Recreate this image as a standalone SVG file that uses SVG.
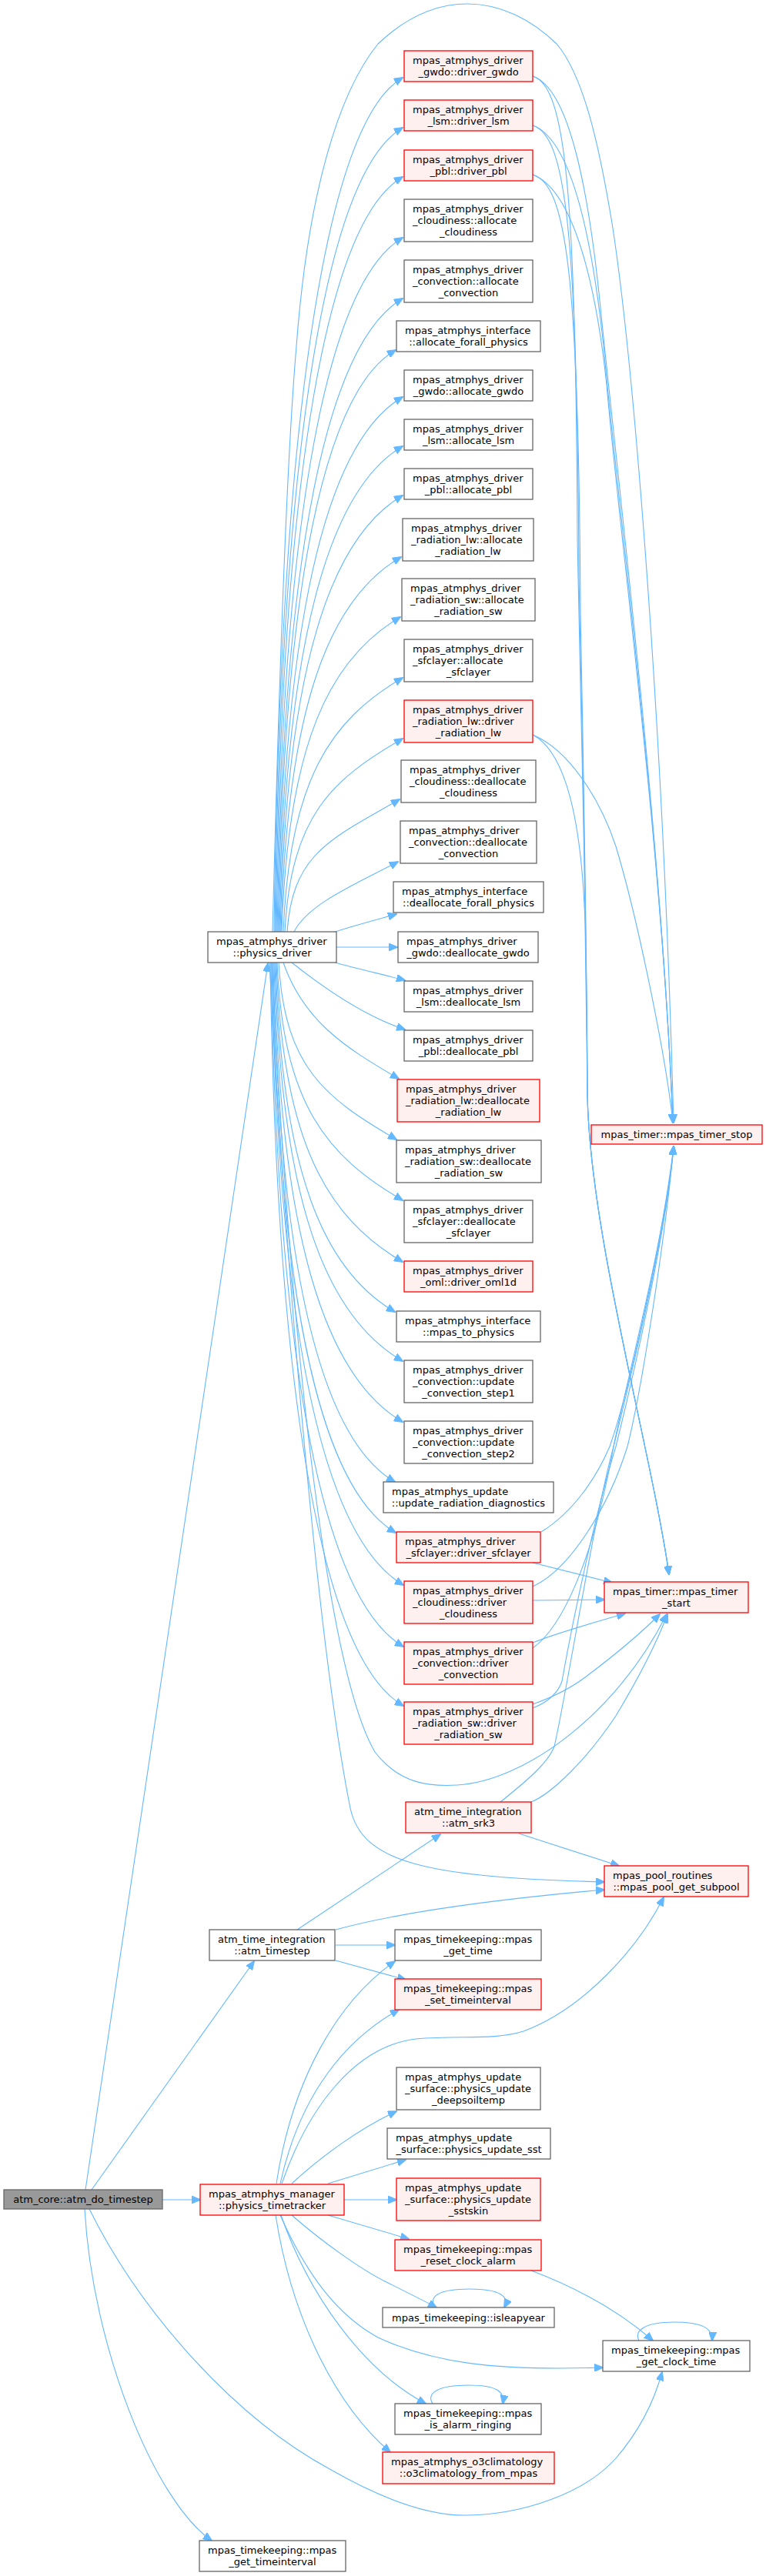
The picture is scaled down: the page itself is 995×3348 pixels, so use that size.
<svg xmlns="http://www.w3.org/2000/svg" width="995" height="3348" viewBox="0 0 995 3348">
<defs>
<marker id="ah" viewBox="0 0 12 10" refX="11" refY="5" markerWidth="12" markerHeight="10" markerUnits="userSpaceOnUse" orient="auto">
<path d="M0,0 L12,5 L0,10 z" fill="#63b8ff" stroke="#63b8ff" stroke-width="1"/>
</marker>
<style>
.e path{fill:none;stroke:#63b8ff;stroke-width:1.1;marker-end:url(#ah)}
.n rect{fill:#ffffff;stroke:#666666;stroke-width:1.3}
.r rect{fill:#fff0f0;stroke:#ff0000;stroke-width:1.3}
.g rect{fill:#999999;stroke:#666666;stroke-width:1.3}
text{font-family:"DejaVu Sans","Liberation Sans",sans-serif;font-size:13px;fill:#000000}
.m{text-anchor:middle}
.s{text-anchor:start}
</style>
</defs>
<rect x="0" y="0" width="995" height="3348" fill="#ffffff"/>
<g id="edges" class="e">
<path d="M356,1211 C364,545 423,159 523,101"/>
<path d="M357,1211 C365,584 423,224 523,166"/>
<path d="M358,1211 C366,622 424,287 523,230"/>
<path d="M359,1211 C367,670 425,366 523,309"/>
<path d="M360,1211 C368,717 425,445 523,388"/>
<path d="M361,1211 C369,757 422,508 514,455"/>
<path d="M362,1211 C370,794 426,572 523,516"/>
<path d="M363,1211 C371,832 427,636 523,580"/>
<path d="M364,1211 C372,871 428,699 523,644"/>
<path d="M365,1211 C373,919 427,778 521,724"/>
<path d="M366,1211 C374,966 428,856 520,802"/>
<path d="M368,1211 C376,1013 430,935 523,881"/>
<path d="M370,1211 C378,1060 431,1013 523,960"/>
<path d="M373,1211 C380,1108 431,1090 519,1039"/>
<path d="M382,1211 C400,1175 460,1150 517,1120"/>
<path d="M435,1211 C460,1203 490,1195 515,1188"/>
<path d="M437,1231 L516,1231"/>
<path d="M435,1251 C460,1258 495,1266 526,1274"/>
<path d="M379,1251 C423,1286 474,1321 526,1338"/>
<path d="M368,1251 C394,1326 447,1361 518,1402"/>
<path d="M362,1251 C370,1389 423,1427 515,1481"/>
<path d="M360,1251 C368,1436 425,1503 523,1560"/>
<path d="M359,1251 C367,1484 425,1583 523,1640"/>
<path d="M358,1251 C366,1523 420,1651 513,1705"/>
<path d="M357,1251 C365,1562 423,1711 523,1769"/>
<path d="M356,1251 C364,1609 423,1790 523,1848"/>
<path d="M355,1251 C363,1656 418,1871 513,1926"/>
<path d="M354,1251 C362,1696 418,1936 514,1992"/>
<path d="M353,1251 C362,1736 421,2000 524,2060"/>
<path d="M352,1251 C361,1784 421,2080 524,2140"/>
<path d="M351,1251 C360,1831 420,2157 524,2217"/>
<path d="M350,1251 C375,1700 415,2150 455,2350 C470,2420 550,2440 785,2446"/>
<path d="M353,1251 C380,1800 430,2180 487,2277 C520,2320 560,2322 594,2320 C680,2315 800,2230 866,2098"/>
<path d="M354,1211 C362,900 372,600 385,450 C400,250 440,120 491,57 C530,20 570,5 607,5 C650,5 690,25 723,57 C760,100 780,200 795,290 C820,450 860,900 875,1459"/>
<path d="M692,99 C735,112 748,250 750,700 C756,1000 762,1200 763,1420 C765,1600 845,1880 869,2046"/>
<path d="M692,163 C735,176 750,300 752,750 C757,1000 762,1200 763,1420 C765,1600 845,1880 869,2046"/>
<path d="M692,227 C735,240 752,350 754,800 C758,1000 762,1200 763,1420 C765,1600 845,1880 869,2046"/>
<path d="M692,955 C730,975 755,1050 760,1200 C762,1300 763,1380 763,1420 C765,1600 845,1880 869,2046"/>
<path d="M692,99 C740,115 765,250 780,400 C800,600 860,1100 874,1459"/>
<path d="M692,163 C740,180 768,300 784,450 C802,650 860,1100 874,1459"/>
<path d="M692,227 C740,245 772,350 788,500 C805,700 860,1100 874,1459"/>
<path d="M692,955 C740,975 780,1040 800,1100 C830,1200 866,1380 874,1459"/>
<path d="M703,1991 C745,1965 775,1920 792,1880 C820,1800 862,1600 875,1490"/>
<path d="M692,2062 C740,2040 790,1960 815,1880 C835,1800 865,1600 875,1490"/>
<path d="M692,2142 C730,2115 770,2030 797,1880 C815,1790 865,1600 875,1490"/>
<path d="M692,2220 C712,2212 725,2200 730,2185 C745,2100 775,1960 800,1880 C825,1780 865,1600 875,1490"/>
<path d="M650,2342 C690,2310 712,2290 720,2270 C740,2180 770,1980 797,1880 C822,1780 865,1600 875,1490"/>
<path d="M692,2031 L795,2057"/>
<path d="M692,2080 L785,2079"/>
<path d="M692,2135 C730,2120 775,2108 812,2097"/>
<path d="M692,2215 C720,2205 740,2195 760,2180 C800,2150 830,2125 857,2098"/>
<path d="M690,2342 C715,2332 760,2290 800,2230 C830,2180 855,2130 867,2098"/>
<path d="M674,2383 L804,2425"/>
<path d="M386,2508 L572,2384"/>
<path d="M436,2508 C520,2485 650,2468 785,2456"/>
<path d="M436,2528 L513,2528"/>
<path d="M436,2548 L527,2573"/>
<path d="M359,2838 C380,2700 440,2600 513,2549"/>
<path d="M364,2838 C390,2720 450,2650 518,2612"/>
<path d="M366,2838 C400,2740 460,2660 540,2650 C600,2645 640,2652 680,2640 C760,2610 830,2530 862,2466"/>
<path d="M379,2838 C420,2800 470,2765 515,2744"/>
<path d="M426,2838 L527,2807"/>
<path d="M447,2859 L515,2859"/>
<path d="M426,2879 L531,2910"/>
<path d="M379,2879 C420,2915 470,2950 500,2965 C530,2980 550,2990 567,2999"/>
<path d="M364,2879 C400,2960 440,3010 491,3038 C560,3070 640,3082 783,3077"/>
<path d="M365,2879 C400,2980 470,3080 553,3124"/>
<path d="M358,2879 C380,3020 440,3130 507,3187"/>
<path d="M566,2999 C555,2985 570,2975 610,2975 C650,2975 662,2985 655,2999"/>
<path d="M562,3124 C553,3110 570,3100 608,3100 C645,3100 656,3108 653,3124"/>
<path d="M830,3042 C823,3028 840,3018 875,3018 C910,3018 926,3025 925,3042"/>
<path d="M690,2951 C740,2970 800,3000 848,3042"/>
<path d="M111,2846 L348,1252"/>
<path d="M119,2846 L330,2549"/>
<path d="M211,2859 L260,2859"/>
<path d="M116,2871 C180,3000 300,3140 430,3210 C500,3250 560,3270 607,3269 C680,3268 760,3240 800,3195 C830,3160 850,3120 860,3083"/>
<path d="M110,2871 C120,3050 200,3250 275,3302"/>
</g>
<g id="n_drv_gwdo" class="r"><rect x="525" y="66" width="167" height="40"/><text class="s" x="536" y="83">mpas_atmphys_driver</text><text class="m" x="608.5" y="98">_gwdo::driver_gwdo</text></g>
<g id="n_drv_lsm" class="r"><rect x="525" y="130" width="167" height="40"/><text class="s" x="536" y="147">mpas_atmphys_driver</text><text class="m" x="608.5" y="162">_lsm::driver_lsm</text></g>
<g id="n_drv_pbl" class="r"><rect x="525" y="195" width="167" height="40"/><text class="s" x="536" y="212">mpas_atmphys_driver</text><text class="m" x="608.5" y="227">_pbl::driver_pbl</text></g>
<g id="n_alloc_cloud" class="n"><rect x="525" y="259" width="167" height="55"/><text class="s" x="536" y="276">mpas_atmphys_driver</text><text class="s" x="536" y="291">_cloudiness::allocate</text><text class="m" x="608.5" y="306">_cloudiness</text></g>
<g id="n_alloc_conv" class="n"><rect x="525" y="338" width="167" height="55"/><text class="s" x="536" y="355">mpas_atmphys_driver</text><text class="s" x="536" y="370">_convection::allocate</text><text class="m" x="608.5" y="385">_convection</text></g>
<g id="n_alloc_forall" class="n"><rect x="515" y="417" width="187" height="40"/><text class="s" x="526" y="434">mpas_atmphys_interface</text><text class="m" x="608.5" y="449">::allocate_forall_physics</text></g>
<g id="n_alloc_gwdo" class="n"><rect x="525" y="481" width="167" height="40"/><text class="s" x="536" y="498">mpas_atmphys_driver</text><text class="m" x="608.5" y="513">_gwdo::allocate_gwdo</text></g>
<g id="n_alloc_lsm" class="n"><rect x="525" y="545" width="167" height="40"/><text class="s" x="536" y="562">mpas_atmphys_driver</text><text class="m" x="608.5" y="577">_lsm::allocate_lsm</text></g>
<g id="n_alloc_pbl" class="n"><rect x="525" y="609" width="167" height="40"/><text class="s" x="536" y="626">mpas_atmphys_driver</text><text class="m" x="608.5" y="641">_pbl::allocate_pbl</text></g>
<g id="n_alloc_rlw" class="n"><rect x="523" y="674" width="170" height="55"/><text class="s" x="534" y="691">mpas_atmphys_driver</text><text class="s" x="534" y="706">_radiation_lw::allocate</text><text class="m" x="608" y="721">_radiation_lw</text></g>
<g id="n_alloc_rsw" class="n"><rect x="522" y="752" width="173" height="55"/><text class="s" x="533" y="769">mpas_atmphys_driver</text><text class="s" x="533" y="784">_radiation_sw::allocate</text><text class="m" x="608.5" y="799">_radiation_sw</text></g>
<g id="n_alloc_sfc" class="n"><rect x="525" y="831" width="167" height="55"/><text class="s" x="536" y="848">mpas_atmphys_driver</text><text class="s" x="536" y="863">_sfclayer::allocate</text><text class="m" x="608.5" y="878">_sfclayer</text></g>
<g id="n_drv_rlw" class="r"><rect x="525" y="910" width="167" height="55"/><text class="s" x="536" y="927">mpas_atmphys_driver</text><text class="s" x="536" y="942">_radiation_lw::driver</text><text class="m" x="608.5" y="957">_radiation_lw</text></g>
<g id="n_dealloc_cloud" class="n"><rect x="521" y="988" width="175" height="55"/><text class="s" x="532" y="1005">mpas_atmphys_driver</text><text class="s" x="532" y="1020">_cloudiness::deallocate</text><text class="m" x="608.5" y="1035">_cloudiness</text></g>
<g id="n_dealloc_conv" class="n"><rect x="520" y="1067" width="177" height="55"/><text class="s" x="531" y="1084">mpas_atmphys_driver</text><text class="s" x="531" y="1099">_convection::deallocate</text><text class="m" x="608.5" y="1114">_convection</text></g>
<g id="n_dealloc_forall" class="n"><rect x="511" y="1146" width="195" height="40"/><text class="s" x="522" y="1163">mpas_atmphys_interface</text><text class="m" x="608.5" y="1178">::deallocate_forall_physics</text></g>
<g id="n_physics_driver" class="n"><rect x="270" y="1211" width="167" height="40"/><text class="s" x="281" y="1228">mpas_atmphys_driver</text><text class="m" x="353.5" y="1243">::physics_driver</text></g>
<g id="n_dealloc_gwdo" class="n"><rect x="517" y="1211" width="182" height="40"/><text class="s" x="528" y="1228">mpas_atmphys_driver</text><text class="m" x="608" y="1243">_gwdo::deallocate_gwdo</text></g>
<g id="n_dealloc_lsm" class="n"><rect x="525" y="1275" width="167" height="40"/><text class="s" x="536" y="1292">mpas_atmphys_driver</text><text class="m" x="608.5" y="1307">_lsm::deallocate_lsm</text></g>
<g id="n_dealloc_pbl" class="n"><rect x="525" y="1339" width="167" height="40"/><text class="s" x="536" y="1356">mpas_atmphys_driver</text><text class="m" x="608.5" y="1371">_pbl::deallocate_pbl</text></g>
<g id="n_dealloc_rlw" class="r"><rect x="516" y="1403" width="185" height="55"/><text class="s" x="527" y="1420">mpas_atmphys_driver</text><text class="s" x="527" y="1435">_radiation_lw::deallocate</text><text class="m" x="608.5" y="1450">_radiation_lw</text></g>
<g id="n_dealloc_rsw" class="n"><rect x="515" y="1482" width="188" height="55"/><text class="s" x="526" y="1499">mpas_atmphys_driver</text><text class="s" x="526" y="1514">_radiation_sw::deallocate</text><text class="m" x="609" y="1529">_radiation_sw</text></g>
<g id="n_dealloc_sfc" class="n"><rect x="525" y="1560" width="167" height="55"/><text class="s" x="536" y="1577">mpas_atmphys_driver</text><text class="s" x="536" y="1592">_sfclayer::deallocate</text><text class="m" x="608.5" y="1607">_sfclayer</text></g>
<g id="n_oml" class="r"><rect x="525" y="1639" width="167" height="40"/><text class="s" x="536" y="1656">mpas_atmphys_driver</text><text class="m" x="608.5" y="1671">_oml::driver_oml1d</text></g>
<g id="n_m2p" class="n"><rect x="515" y="1704" width="187" height="40"/><text class="s" x="526" y="1721">mpas_atmphys_interface</text><text class="m" x="608.5" y="1736">::mpas_to_physics</text></g>
<g id="n_step1" class="n"><rect x="525" y="1768" width="167" height="55"/><text class="s" x="536" y="1785">mpas_atmphys_driver</text><text class="s" x="536" y="1800">_convection::update</text><text class="m" x="608.5" y="1815">_convection_step1</text></g>
<g id="n_step2" class="n"><rect x="525" y="1847" width="167" height="55"/><text class="s" x="536" y="1864">mpas_atmphys_driver</text><text class="s" x="536" y="1879">_convection::update</text><text class="m" x="608.5" y="1894">_convection_step2</text></g>
<g id="n_raddiag" class="n"><rect x="498" y="1926" width="221" height="40"/><text class="s" x="509" y="1943">mpas_atmphys_update</text><text class="m" x="608.5" y="1958">::update_radiation_diagnostics</text></g>
<g id="n_drv_sfc" class="r"><rect x="515" y="1991" width="187" height="40"/><text class="s" x="526" y="2008">mpas_atmphys_driver</text><text class="m" x="608.5" y="2023">_sfclayer::driver_sfclayer</text></g>
<g id="n_drv_cloud" class="r"><rect x="525" y="2055" width="167" height="55"/><text class="s" x="536" y="2072">mpas_atmphys_driver</text><text class="s" x="536" y="2087">_cloudiness::driver</text><text class="m" x="608.5" y="2102">_cloudiness</text></g>
<g id="n_drv_conv" class="r"><rect x="525" y="2134" width="167" height="55"/><text class="s" x="536" y="2151">mpas_atmphys_driver</text><text class="s" x="536" y="2166">_convection::driver</text><text class="m" x="608.5" y="2181">_convection</text></g>
<g id="n_drv_rsw" class="r"><rect x="525" y="2212" width="167" height="55"/><text class="s" x="536" y="2229">mpas_atmphys_driver</text><text class="s" x="536" y="2244">_radiation_sw::driver</text><text class="m" x="608.5" y="2259">_radiation_sw</text></g>
<g id="n_srk3" class="r"><rect x="527" y="2342" width="163" height="40"/><text class="s" x="538" y="2359">atm_time_integration</text><text class="m" x="608.5" y="2374">::atm_srk3</text></g>
<g id="n_atm_timestep" class="n"><rect x="272" y="2508" width="163" height="40"/><text class="s" x="283" y="2525">atm_time_integration</text><text class="m" x="353.5" y="2540">::atm_timestep</text></g>
<g id="n_get_time" class="n"><rect x="513" y="2508" width="190" height="40"/><text class="s" x="524" y="2525">mpas_timekeeping::mpas</text><text class="m" x="608" y="2540">_get_time</text></g>
<g id="n_set_ti" class="r"><rect x="513" y="2572" width="190" height="40"/><text class="s" x="524" y="2589">mpas_timekeeping::mpas</text><text class="m" x="608" y="2604">_set_timeinterval</text></g>
<g id="n_deepsoil" class="n"><rect x="515" y="2687" width="187" height="55"/><text class="s" x="526" y="2704">mpas_atmphys_update</text><text class="s" x="526" y="2719">_surface::physics_update</text><text class="m" x="608.5" y="2734">_deepsoiltemp</text></g>
<g id="n_sst" class="n"><rect x="503" y="2766" width="212" height="40"/><text class="s" x="514" y="2783">mpas_atmphys_update</text><text class="m" x="609" y="2798">_surface::physics_update_sst</text></g>
<g id="n_timetracker" class="r"><rect x="260" y="2839" width="187" height="40"/><text class="s" x="271" y="2856">mpas_atmphys_manager</text><text class="m" x="353.5" y="2871">::physics_timetracker</text></g>
<g id="n_sstskin" class="r"><rect x="515" y="2831" width="187" height="55"/><text class="s" x="526" y="2848">mpas_atmphys_update</text><text class="s" x="526" y="2863">_surface::physics_update</text><text class="m" x="608.5" y="2878">_sstskin</text></g>
<g id="n_reset" class="r"><rect x="513" y="2911" width="190" height="40"/><text class="s" x="524" y="2928">mpas_timekeeping::mpas</text><text class="m" x="608" y="2943">_reset_clock_alarm</text></g>
<g id="n_isleap" class="n"><rect x="497" y="2999" width="223" height="26"/><text class="m" x="608.5" y="3016.5">mpas_timekeeping::isleapyear</text></g>
<g id="n_clock" class="n"><rect x="783" y="3042" width="191" height="40"/><text class="s" x="794" y="3059">mpas_timekeeping::mpas</text><text class="m" x="878.5" y="3074">_get_clock_time</text></g>
<g id="n_alarm" class="n"><rect x="513" y="3124" width="190" height="40"/><text class="s" x="524" y="3141">mpas_timekeeping::mpas</text><text class="m" x="608" y="3156">_is_alarm_ringing</text></g>
<g id="n_o3" class="r"><rect x="497" y="3187" width="223" height="41"/><text class="s" x="508" y="3204">mpas_atmphys_o3climatology</text><text class="m" x="608.5" y="3219">::o3climatology_from_mpas</text></g>
<g id="n_do_timestep" class="g"><rect x="5" y="2846" width="206" height="25"/><text class="m" x="108" y="2863">atm_core::atm_do_timestep</text></g>
<g id="n_get_ti" class="n"><rect x="259" y="3302" width="190" height="40"/><text class="s" x="270" y="3319">mpas_timekeeping::mpas</text><text class="m" x="354" y="3334">_get_timeinterval</text></g>
<g id="n_timer_stop" class="r"><rect x="768" y="1462" width="222" height="25"/><text class="m" x="879" y="1479">mpas_timer::mpas_timer_stop</text></g>
<g id="n_timer_start" class="r"><rect x="785" y="2056" width="187" height="40"/><text class="s" x="796" y="2073">mpas_timer::mpas_timer</text><text class="m" x="878.5" y="2088">_start</text></g>
<g id="n_pool" class="r"><rect x="785" y="2425" width="187" height="40"/><text class="s" x="796" y="2442">mpas_pool_routines</text><text class="m" x="878.5" y="2457">::mpas_pool_get_subpool</text></g>
</svg>
